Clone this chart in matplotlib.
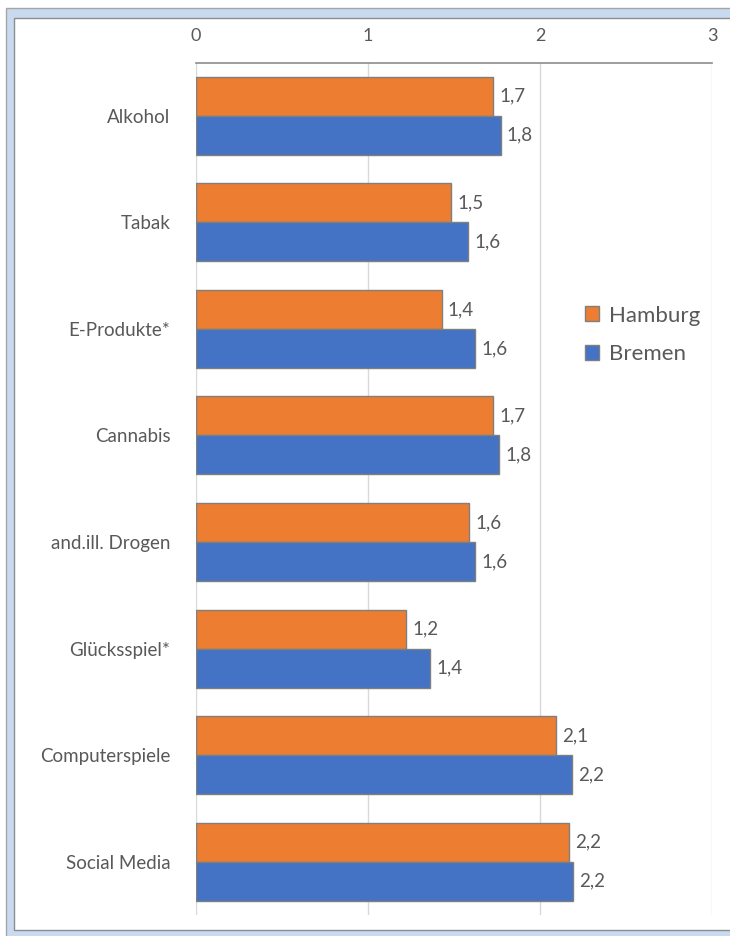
import matplotlib.pyplot as plt
from matplotlib.patches import Rectangle

plt.rcParams["font.family"] = ["Lato", "DejaVu Sans"]

categories = ["Alkohol", "Tabak", "E-Produkte*", "Cannabis", "and.ill. Drogen",
              "Glücksspiel*", "Computerspiele", "Social Media"]
hamburg = [1.727, 1.483, 1.428, 1.727, 1.589, 1.221, 2.095, 2.168]
bremen = [1.771, 1.583, 1.622, 1.762, 1.622, 1.362, 2.186, 2.193]
xticks = [0, 1, 2, 3]

ORANGE = "#ED7D31"
BLUE = "#4472C4"
TEXT = "#595959"


def fmt(v):
    return f"{v:.1f}".replace(".", ",")


fig = plt.figure(figsize=(7.3, 9.36), dpi=100)

# chart frame (light blue band with grey lines)
W, H = 730, 936
fig.patches.append(Rectangle((6 / W, -0.05), 1.1, (H - 8) / H + 0.05,
                             transform=fig.transFigure, facecolor="#c9daf0",
                             edgecolor="#a6a6a6", linewidth=1, zorder=-2))
fig.patches.append(Rectangle((14 / W, 6 / H), 1.1, (H - 18 - 6) / H,
                             transform=fig.transFigure, facecolor="white",
                             edgecolor="#8c8c8c", linewidth=1, zorder=-1))

ax = fig.add_axes([196 / W, 21 / H, 516 / W, (915 - 62.5) / H])
ax.set_facecolor("none")

y = range(len(categories))
h = 0.366
bars_h = ax.barh([i - h / 2 for i in y], hamburg, height=h, color=ORANGE,
                 edgecolor="#7f7f7f", linewidth=1, label="Hamburg", zorder=3)
bars_b = ax.barh([i + h / 2 for i in y], bremen, height=h, color=BLUE,
                 edgecolor="#7f7f7f", linewidth=1, label="Bremen", zorder=3)

for bars, vals in ((bars_h, hamburg), (bars_b, bremen)):
    for bar, v in zip(bars, vals):
        ax.annotate(fmt(v), (v, bar.get_y() + bar.get_height() / 2),
                    xytext=(4.5, 0), textcoords="offset points",
                    va="center", ha="left", fontsize=13.5, color=TEXT)

ax.set_xlim(0, 3)
ax.set_ylim(len(categories) - 0.5, -0.5)
ax.set_xticks(xticks)
ax.set_xticklabels([str(t) for t in xticks])
ax.set_yticks(list(y))
ax.set_yticklabels(categories)
ax.xaxis.tick_top()
ax.tick_params(axis="x", length=0, pad=13, labelsize=13, colors=TEXT)
ax.tick_params(axis="y", length=0, pad=18.5, labelsize=13.5, colors=TEXT)
ax.grid(axis="x", color="#d9d9d9", linewidth=1, zorder=0)
for side in ("bottom", "left", "right"):
    ax.spines[side].set_visible(False)
ax.spines["top"].set_color("#8c8c8c")
ax.spines["top"].set_linewidth(1.2)

leg = fig.legend(handles=[bars_h, bars_b], loc="center left",
                 bbox_to_anchor=(565 / W, 1 - 335 / H), frameon=False,
                 fontsize=16, handlelength=0.65, handleheight=0.65,
                 handletextpad=0.45, labelspacing=0.85)
for t in leg.get_texts():
    t.set_color(TEXT)

fig.savefig("out.png", dpi=100)
